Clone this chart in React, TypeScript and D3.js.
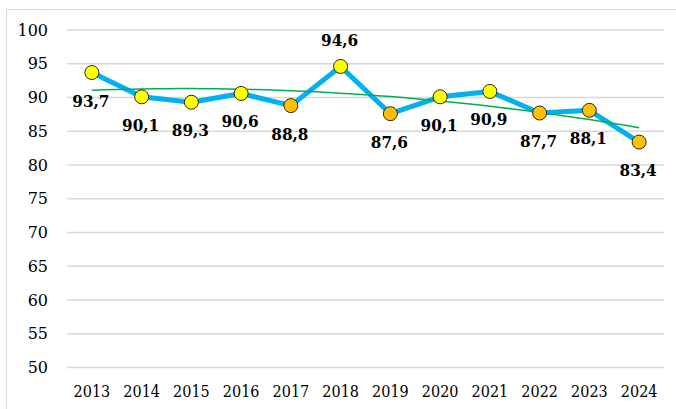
import { useEffect, useRef } from 'react';
import * as d3 from 'd3';

// chart data
const years = ['2013', '2014', '2015', '2016', '2017', '2018', '2019', '2020', '2021', '2022', '2023', '2024'];
const values = [93.7, 90.1, 89.3, 90.6, 88.8, 94.6, 87.6, 90.1, 90.9, 87.7, 88.1, 83.4];
const markerKinds = ['y', 'y', 'y', 'y', 'o', 'y', 'o', 'y', 'y', 'o', 'o', 'o'];
const labelAbove = [false, false, false, false, false, true, false, false, false, false, false, false];
const yTicks = [50, 55, 60, 65, 70, 75, 80, 85, 90, 95, 100];

const W = 676;
const H = 409;
const margin = { top: 30, right: 12, bottom: 41.5, left: 67 };

// quadratic least-squares trendline (like Excel's polynomial order 2)
const quadFit = (ys: number[]) => {
  const s = [0, 0, 0, 0, 0];
  const t = [0, 0, 0];
  ys.forEach((v, i) => {
    for (let k = 0; k < 5; k++) s[k] += Math.pow(i, k);
    for (let k = 0; k < 3; k++) t[k] += v * Math.pow(i, k);
  });
  const A = [
    [s[0], s[1], s[2], t[0]],
    [s[1], s[2], s[3], t[1]],
    [s[2], s[3], s[4], t[2]],
  ];
  for (let c = 0; c < 3; c++) {
    for (let r = c + 1; r < 3; r++) {
      const f = A[r][c] / A[c][c];
      for (let k = c; k < 4; k++) A[r][k] -= f * A[c][k];
    }
  }
  const b = [0, 0, 0];
  for (let r = 2; r >= 0; r--) {
    let v = A[r][3];
    for (let k = r + 1; k < 3; k++) v -= A[r][k] * b[k];
    b[r] = v / A[r][r];
  }
  return (x: number) => b[0] + b[1] * x + b[2] * x * x;
};

const App = () => {
  const ref = useRef<SVGSVGElement>(null);

  useEffect(() => {
    const svg = d3.select(ref.current);
    svg.selectAll('*').remove();

    const x = d3.scaleBand().domain(years).range([margin.left, W - margin.right]);
    const y = d3.scaleLinear().domain([50, 100]).range([H - margin.bottom, margin.top]);
    const cx = (i: number) => (x(years[0]) as number) + x.bandwidth() / 2 + i * x.step();

    // outer frame
    svg.append('rect')
      .attr('x', 6.5).attr('y', 9.5)
      .attr('width', W + 10).attr('height', H + 10)
      .attr('fill', 'white').attr('stroke', '#d9d9d9').attr('stroke-width', 1);

    // gridlines
    svg.append('g')
      .selectAll('line')
      .data(yTicks)
      .enter()
      .append('line')
      .attr('x1', margin.left).attr('x2', W - margin.right)
      .attr('y1', d => y(d)).attr('y2', d => y(d))
      .attr('stroke', '#d9d9d9').attr('stroke-width', 1.3);

    // y labels
    svg.append('g')
      .selectAll('text')
      .data(yTicks)
      .enter()
      .append('text')
      .attr('x', 48).attr('y', d => y(d) + 5.5)
      .attr('text-anchor', 'end')
      .style('font-family', '"DejaVu Serif", serif')
      .style('font-size', '16px')
      .attr('fill', '#000')
      .text(d => d);

    // x labels
    svg.append('g')
      .selectAll('text')
      .data(years)
      .enter()
      .append('text')
      .attr('x', d => (x(d) as number) + x.bandwidth() / 2)
      .attr('y', 397)
      .attr('text-anchor', 'middle')
      .style('font-family', '"DejaVu Serif Condensed", "DejaVu Serif", serif')
      .style('font-stretch', 'condensed')
      .style('font-size', '16px')
      .attr('fill', '#000')
      .text(d => d);

    // main line
    const line = d3.line<number>().x((_, i) => cx(i)).y(d => y(d));
    svg.append('path')
      .datum(values)
      .attr('d', line)
      .attr('fill', 'none')
      .attr('stroke', '#00b0f0')
      .attr('stroke-width', 5)
      .attr('stroke-linejoin', 'round');

    // trendline
    const f = quadFit(values);
    const steps = d3.range(0, 11.01, 0.25);
    svg.append('path')
      .datum(steps)
      .attr('d', d3.line<number>().x(d => cx(d)).y(d => y(f(d))))
      .attr('fill', 'none')
      .attr('stroke', '#00b050')
      .attr('stroke-width', 1.5);

    // markers
    svg.append('g')
      .selectAll('circle')
      .data(values)
      .enter()
      .append('circle')
      .attr('cx', (_, i) => cx(i))
      .attr('cy', d => y(d))
      .attr('r', 7)
      .attr('fill', (_, i) => (markerKinds[i] === 'y' ? '#ffff00' : '#ffc000'))
      .attr('stroke', '#262626')
      .attr('stroke-width', 1);

    // value labels
    svg.append('g')
      .selectAll('text')
      .data(values)
      .enter()
      .append('text')
      .attr('x', (_, i) => cx(i) - 1)
      .attr('y', (d, i) => y(d) + (labelAbove[i] ? -20 : 34))
      .attr('text-anchor', 'middle')
      .style('font-family', '"DejaVu Serif Condensed", "DejaVu Serif", serif')
      .style('font-stretch', 'condensed')
      .style('font-size', '17px')
      .style('font-weight', 'bold')
      .attr('fill', '#000')
      .text(d => d.toFixed(1).replace('.', ','));
  }, []);

  return (
    <svg
      ref={ref}
      width={W}
      height={H}
      style={{ position: 'absolute', left: 0, top: 0, background: 'white' }}
    />
  );
};

export default App;
